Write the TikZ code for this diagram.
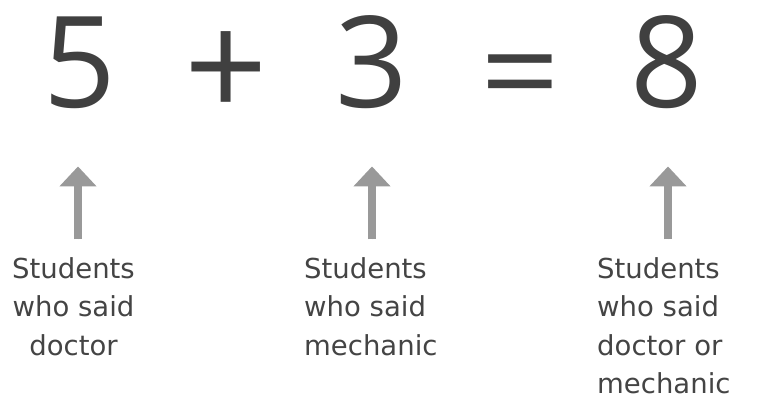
\documentclass[tikz,border=0pt]{standalone}
\usepackage{fontspec}
\usepackage{xcolor}
\usetikzlibrary{arrows.meta, positioning}
\newfontfamily\digitfont{Open Sans}
\newfontfamily\labelfont{DejaVu Sans}
\definecolor{digitgray}{HTML}{404040}
\definecolor{textgray}{HTML}{444444}
\definecolor{arrowgray}{HTML}{999999}

\begin{document}
\begin{tikzpicture}[
  x=1pt, y=-1pt,
  digit/.style = {inner sep=0pt, anchor=base, text=digitgray,
                  font=\digitfont\fontsize{127}{127}\selectfont},
  oper/.style  = {inner sep=0pt, anchor=center, text=digitgray,
                  font=\digitfont\fontsize{146}{146}\selectfont},
  lab/.style   = {inner sep=0pt, anchor=base, text=textgray,
                  font=\labelfont\fontsize{27.5}{38.5}\selectfont},
  arr/.style   = {-{Triangle[width=36pt, length=20pt]}, line width=8pt,
                  draw=arrowgray, fill=arrowgray}
]
\useasboundingbox (0,0) rectangle (762,408);

% The equation
\node[digit] (five)  at (80,107)  {5};
\node[oper]  (plus)  at (226,75)  {+};
\node[digit] (three) at (372,107) {3};
\node[digit, xscale=1.1] (eq) at (520,116) {=};
\node[digit] (eight) at (667,107) {8};

% Labels below (base = last line)
\node[lab, align=center] (labA) at (73.5,355) {Students\\who said\\doctor};
\node[lab, align=left, anchor=base west] (labB) at (304,355) {Students\\who said\\mechanic};
\node[lab, align=left, anchor=base west] (labC) at (597,393.5) {Students\\who said\\doctor or\\mechanic};

% Arrows
\draw[arr] ([xshift=-2pt, yshift=-131pt]five.south) -- ([xshift=-2pt, yshift=-58pt]five.south);
\draw[arr] ([yshift=-131pt]three.south) -- ([yshift=-58pt]three.south);
\draw[arr] ([xshift=1pt, yshift=-131pt]eight.south) -- ([xshift=1pt, yshift=-58pt]eight.south);
\end{tikzpicture}
\end{document}
